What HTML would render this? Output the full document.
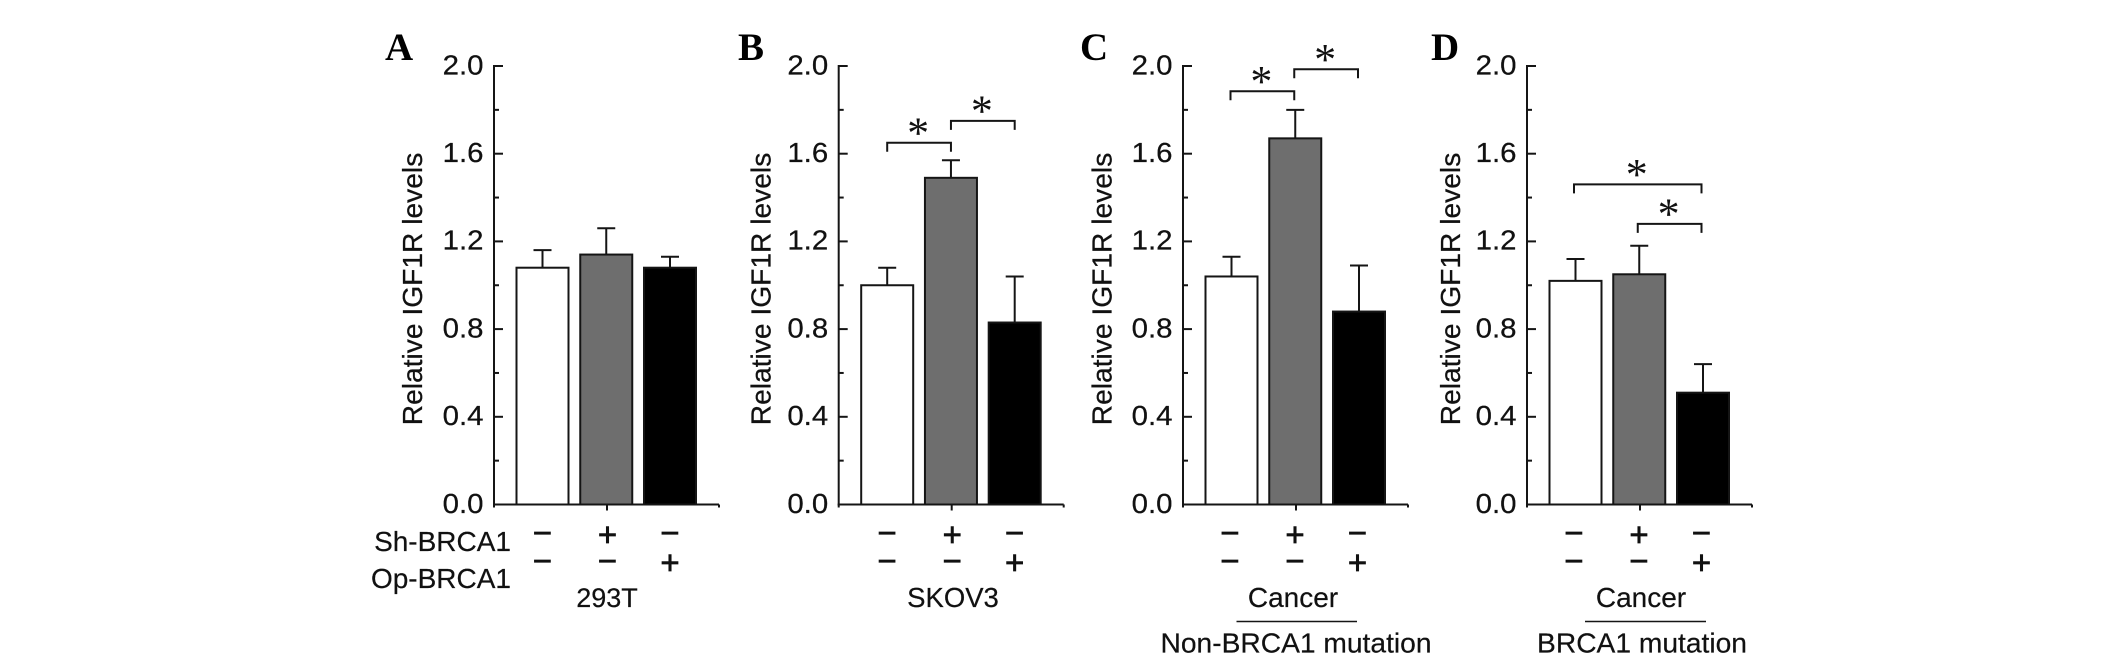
<!DOCTYPE html>
<html lang="en">
<head>
<meta charset="utf-8">
<title>Relative IGF1R levels</title>
<style>
  html, body { margin: 0; padding: 0; background: #fff; }
  #figure { display: block; width: 2126px; height: 662px; font-family: "Liberation Sans", sans-serif; }
</style>
</head>
<body>
<svg id="figure" xmlns="http://www.w3.org/2000/svg" width="2126" height="662" viewBox="0 0 2126 662"></svg>
<script>
// Shared axis data
const yTickValues = [0, 0.4, 0.8, 1.2, 1.6, 2.0];
const yMinorValues = [0.2, 0.6, 1.0, 1.4, 1.8];
const yAxisTitle = 'Relative IGF1R levels';
const barFills = ['#ffffff', '#6e6e6e', '#000000'];
const barKeys = ['control', 'sh-brca1', 'op-brca1'];
const shRow = ['\u2212', '+', '\u2212'];
const opRow = ['\u2212', '\u2212', '+'];

// Panel A - 293T
const meansA = [1.08, 1.14, 1.08];
const errorsA = [0.08, 0.12, 0.05];
const bracketStartA = [];
const bracketEndA = [];
const bracketLevelA = [];

// Panel B - SKOV3
const meansB = [1.00, 1.49, 0.83];
const errorsB = [0.08, 0.08, 0.21];
const bracketStartB = [0, 1];
const bracketEndB = [1, 2];
const bracketLevelB = [1.65, 1.75];

// Panel C - Cancer, Non-BRCA1 mutation
const meansC = [1.04, 1.67, 0.88];
const errorsC = [0.09, 0.13, 0.21];
const bracketStartC = [0, 1];
const bracketEndC = [1, 2];
const bracketLevelC = [1.885, 1.985];

// Panel D - Cancer, BRCA1 mutation
const meansD = [1.02, 1.05, 0.51];
const errorsD = [0.10, 0.13, 0.13];
const bracketStartD = [0, 1];
const bracketEndD = [2, 2];
const bracketLevelD = [1.46, 1.28];

const NS = 'http://www.w3.org/2000/svg';
const INK = '#151515';
const TEXT_INK = '#111';
const Y_ZERO = 504.5;
const Y_TOP = 66;
const Y_MAX = 2.0;

function yScale(v) { return Y_ZERO - (v / Y_MAX) * (Y_ZERO - Y_TOP); }
function xScale(i) { return 48.5 + 63.75 * i; }

function make(parent, tag, props, content) {
  const el = document.createElementNS(NS, tag);
  for (const k in props) el.setAttribute(k, props[k]);
  if (content !== undefined) el.textContent = content;
  parent.appendChild(el);
  return el;
}

function segment(parent, x1, y1, x2, y2, w) {
  return make(parent, 'line', { x1: x1, y1: y1, x2: x2, y2: y2, stroke: INK, 'stroke-width': w || 2 });
}

function signBaseline(sign, rowCenter) { return rowCenter + (sign === '+' ? 10.5 : 8.5); }

function drawPanel(id, left, letter, letterX, titleX, signShift, bracketShift, means, errors, bStart, bEnd, bLevel) {
  const root = document.getElementById('figure');
  const g = make(root, 'g', {});
  
  

  const title = make(g, 'text', { x: letterX, y: 60, 'font-family': '"Liberation Serif", serif', 'font-weight': 'bold', 'font-size': 39, fill: '#000' }, letter);
  
  

  // y axis
  const yAxis = make(g, 'g', {});
  
  
  segment(yAxis, left, Y_TOP - 1, left, Y_ZERO + 1);
  yTickValues.forEach(function (v) {
    const y = yScale(v);
    segment(yAxis, left, y, left + 9, y);
    const t = make(yAxis, 'text', { transform: 'translate(' + (left - 10.5) + ',' + (y + 8.3) + ') scale(1.05,1)', 'text-anchor': 'end', 'font-size': 28, fill: TEXT_INK, stroke: TEXT_INK, 'stroke-width': 0.25 }, v.toFixed(1));
    
    
  });
  yMinorValues.forEach(function (v) {
    const y = yScale(v);
    segment(yAxis, left, y, left + 5, y);
  });

  const yt = make(g, 'text', { transform: 'translate(' + titleX + ',289) rotate(-90)', 'text-anchor': 'middle', 'font-size': 28.2, fill: TEXT_INK, stroke: TEXT_INK, 'stroke-width': 0.25 }, yAxisTitle);
  
  

  // bars and error bars
  means.forEach(function (m, i) {
    const cx = left + xScale(i);
    const top = yScale(m);
    const errTop = yScale(m + errors[i]);
    const eb = make(g, 'g', {});
    
    
    segment(eb, cx, errTop, cx, top);
    segment(eb, cx - 9, errTop, cx + 9, errTop);
    const bar = make(g, 'rect', { x: cx - 26, y: top, width: 52, height: Y_ZERO - top, fill: barFills[i], stroke: INK, 'stroke-width': 2 });
    
    
  });

  // x axis
  const xAxis = make(g, 'g', {});
  
  
  segment(xAxis, left - 1, Y_ZERO, left + 225, Y_ZERO);
  segment(xAxis, left, Y_ZERO, left, Y_ZERO + 3);
  segment(xAxis, left + 113, Y_ZERO, left + 113, Y_ZERO + 6);
  segment(xAxis, left + 225, Y_ZERO, left + 225, Y_ZERO + 3);

  // +/- rows
  shRow.forEach(function (s, i) {
    const nudge = i === 1 ? 1.3 : 0;
    const a = make(g, 'text', { x: left + xScale(i) + nudge + signShift, y: signBaseline(s, 535.7), 'text-anchor': 'middle', 'font-size': 33, stroke: '#111', 'stroke-width': 0.7, fill: TEXT_INK }, s);
    
    
  });
  opRow.forEach(function (s, i) {
    const nudge = i === 1 ? 1.3 : 0;
    const b = make(g, 'text', { x: left + xScale(i) + nudge + signShift, y: signBaseline(s, 563.3), 'text-anchor': 'middle', 'font-size': 33, stroke: '#111', 'stroke-width': 0.7, fill: TEXT_INK }, s);
    
    
  });

  // significance brackets
  bLevel.forEach(function (lv, i) {
    const x1 = left + xScale(bStart[i]) + bracketShift;
    const x2 = left + xScale(bEnd[i]) + bracketShift;
    const y = yScale(lv);
    const br = make(g, 'path', { d: 'M' + x1 + ' ' + (y + 9) + 'V' + y + 'H' + x2 + 'V' + (y + 9), fill: 'none', stroke: INK, 'stroke-width': 2 });
    
    
    const star = make(g, 'text', { x: (x1 + x2) / 2 - 1, y: y + 4.7, 'text-anchor': 'middle', 'font-family': '"Liberation Serif", serif', 'font-size': 44, fill: TEXT_INK }, '*');
    
    
  });
}

drawPanel('a', 494, 'A', 385, 422, 0, 0, meansA, errorsA, bracketStartA, bracketEndA, bracketLevelA);
drawPanel('b', 838.7, 'B', 738, 770.5, 0, 0, meansB, errorsB, bracketStartB, bracketEndB, bracketLevelB);
drawPanel('c', 1183, 'C', 1080, 1111.5, -1.5, -1, meansC, errorsC, bracketStartC, bracketEndC, bracketLevelC);
drawPanel('d', 1527, 'D', 1431, 1460, -1.5, -1.5, meansD, errorsD, bracketStartD, bracketEndD, bracketLevelD);

// Row headers and group captions
const fig = document.getElementById('figure');

const shHeader = make(fig, 'text', { x: 511, y: 551, 'text-anchor': 'end', 'font-size': 28, fill: TEXT_INK, stroke: TEXT_INK, 'stroke-width': 0.2 }, 'Sh-BRCA1');



const opHeader = make(fig, 'text', { x: 511, y: 588, 'text-anchor': 'end', 'font-size': 28, fill: TEXT_INK, stroke: TEXT_INK, 'stroke-width': 0.2 }, 'Op-BRCA1');



const capA = make(fig, 'text', { x: 607, y: 607, 'text-anchor': 'middle', 'font-size': 27, fill: TEXT_INK, stroke: TEXT_INK, 'stroke-width': 0.2 }, '293T');



const capB = make(fig, 'text', { x: 953, y: 607, 'text-anchor': 'middle', 'font-size': 27.5, fill: TEXT_INK, stroke: TEXT_INK, 'stroke-width': 0.2 }, 'SKOV3');



const capC = make(fig, 'text', { x: 1293, y: 607, 'text-anchor': 'middle', 'font-size': 28, fill: TEXT_INK, stroke: TEXT_INK, 'stroke-width': 0.2 }, 'Cancer');



const ruleC = segment(fig, 1236.5, 621.5, 1357, 621.5, 1.5);



const subC = make(fig, 'text', { x: 1296, y: 652.5, 'text-anchor': 'middle', 'font-size': 28.2, fill: TEXT_INK, stroke: TEXT_INK, 'stroke-width': 0.2 }, 'Non-BRCA1 mutation');



const capD = make(fig, 'text', { x: 1641, y: 607, 'text-anchor': 'middle', 'font-size': 28, fill: TEXT_INK, stroke: TEXT_INK, 'stroke-width': 0.2 }, 'Cancer');



const ruleD = segment(fig, 1585, 621.5, 1706, 621.5, 1.5);



const subD = make(fig, 'text', { x: 1642, y: 652.5, 'text-anchor': 'middle', 'font-size': 28.2, fill: TEXT_INK, stroke: TEXT_INK, 'stroke-width': 0.2 }, 'BRCA1 mutation');


</script>
</body>
</html>
